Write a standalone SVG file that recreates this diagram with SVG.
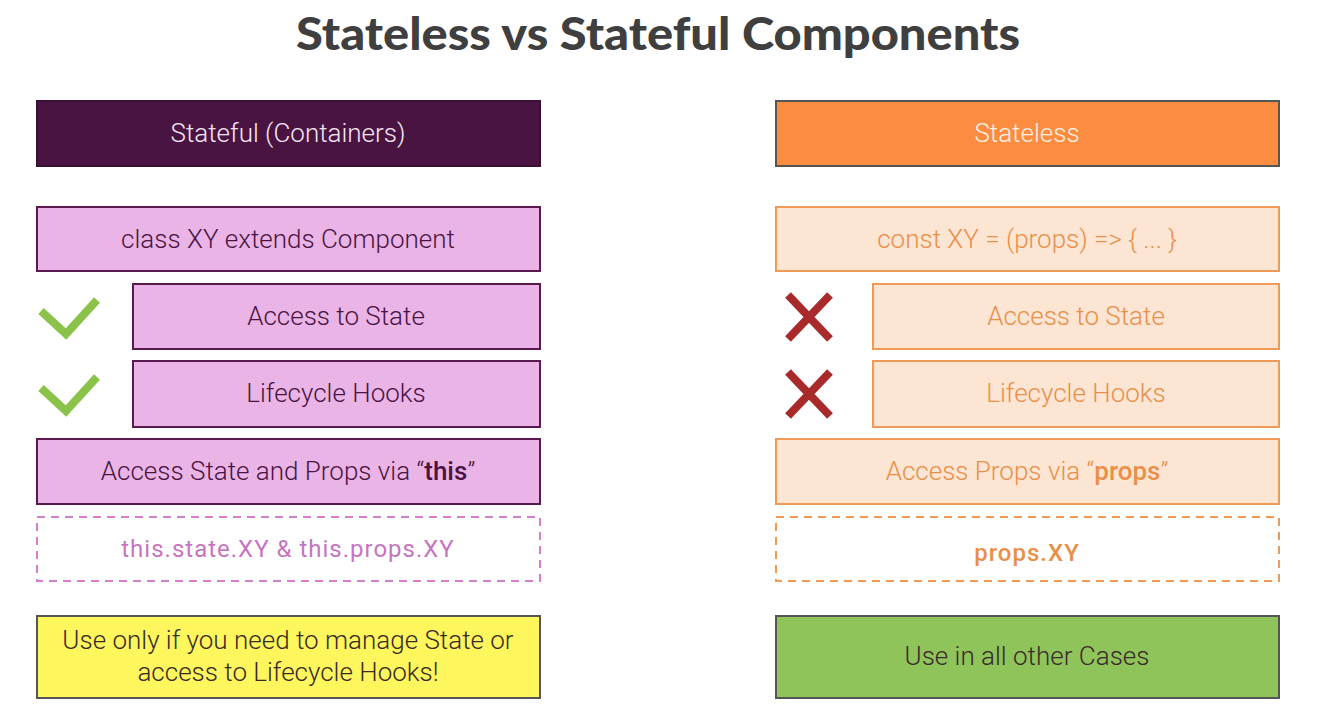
<svg xmlns="http://www.w3.org/2000/svg" width="1319" height="728" viewBox="0 0 1319 728">
<style>
.t{font-family:Roboto,"Liberation Sans",sans-serif;font-size:26px;font-weight:300;text-anchor:middle;dominant-baseline:central}
.title{font-family:Lato,"Liberation Sans",sans-serif;font-weight:900;font-size:45px;fill:#3f3f3f;text-anchor:middle}
.pk{fill:#ebb4e6;stroke:#5a1a50;stroke-width:2}
.pt{fill:#4a1442}
.or{fill:#fde5d3;stroke:#f19a55;stroke-width:2}
.ot{fill:#e8904a}
.code{font-size:24px;letter-spacing:1px}
.chk{fill:none;stroke:#8bc34a;stroke-width:8}
.x{stroke:#a82a2a;stroke-width:8}
</style>
<text class="title" x="658" y="50" textLength="724" lengthAdjust="spacingAndGlyphs">Stateless vs Stateful Components</text>

<g id="left-header"><rect x="37" y="101" width="503" height="65" fill="#4a1442" stroke="#3a0f35" stroke-width="2"/><text class="t" x="288" y="133" fill="#f3e6f1">Stateful (Containers)</text></g>
<g id="left-class"><rect class="pk" x="37" y="207" width="503" height="64"/><text class="t pt" x="288" y="239">class XY extends Component</text></g>
<g id="left-state"><rect class="pk" x="133" y="284" width="407" height="65"/><text class="t pt" x="336" y="316">Access to State</text><path class="chk" d="M41,311 L66,334 L97,300"/></g>
<g id="left-hooks"><rect class="pk" x="133" y="361" width="407" height="66"/><text class="t pt" x="336" y="393">Lifecycle Hooks</text><path class="chk" d="M41,388 L66,411 L97,377"/></g>
<g id="left-this"><rect class="pk" x="37" y="439" width="503" height="65"/><text class="t pt" x="288" y="471">Access State and Props via “<tspan style="font-weight:500">this</tspan>”</text></g>
<g id="left-code"><rect x="37" y="517" width="503" height="64" fill="#fff" stroke="#d67fd0" stroke-width="2" stroke-dasharray="8,6"/><text class="t code" x="288" y="549" fill="#c774c0" style="font-weight:400">this.state.XY &amp; this.props.XY</text></g>
<g id="left-use"><rect x="37" y="616" width="503" height="82" fill="#fdf65c" stroke="#555" stroke-width="2"/><text class="t" x="288" y="640" fill="#3a2a2a">Use only if you need to manage State or</text><text class="t" x="288" y="672" fill="#3a2a2a">access to Lifecycle Hooks!</text></g>

<g id="right-header"><rect x="776" y="101" width="503" height="65" fill="#fb8c40" stroke="#555" stroke-width="2"/><text class="t" x="1027" y="133" fill="#fdf0e4">Stateless</text></g>
<g id="right-const"><rect class="or" x="776" y="207" width="503" height="64"/><text class="t ot" x="1027" y="239">const XY = (props) =&gt; { ... }</text></g>
<g id="right-state"><rect class="or" x="873" y="284" width="406" height="65"/><text class="t ot" x="1076" y="316">Access to State</text><path class="x" d="M788,295 L830,339 M830,295 L788,339"/></g>
<g id="right-hooks"><rect class="or" x="873" y="361" width="406" height="66"/><text class="t ot" x="1076" y="393">Lifecycle Hooks</text><path class="x" d="M788,372 L830,416 M830,372 L788,416"/></g>
<g id="right-props"><rect class="or" x="776" y="439" width="503" height="65"/><text class="t ot" x="1027" y="471">Access Props via “<tspan style="font-weight:500">props</tspan>”</text></g>
<g id="right-code"><rect x="776" y="517" width="503" height="64" fill="#fff" stroke="#f19a55" stroke-width="2" stroke-dasharray="8,6"/><text class="t ot code" x="1027" y="553" style="font-weight:500">props.XY</text></g>
<g id="right-use"><rect x="776" y="616" width="503" height="82" fill="#8fc45a" stroke="#555" stroke-width="2"/><text class="t" x="1027" y="656" fill="#3a2a2a">Use in all other Cases</text></g>
<g id="connectors"/>
</svg>
